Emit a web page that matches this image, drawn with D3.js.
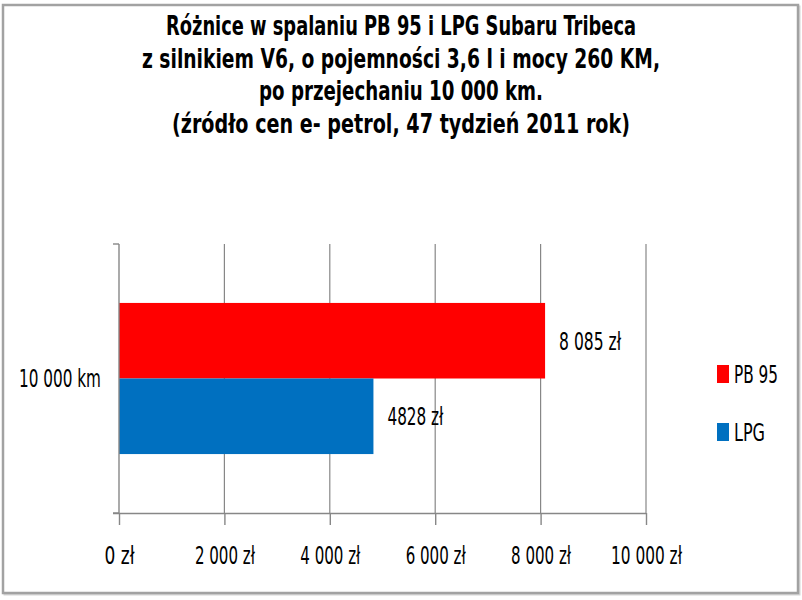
<!DOCTYPE html>
<html lang="pl">
<head>
<meta charset="utf-8">
<title>Różnice w spalaniu PB 95 i LPG Subaru Tribeca</title>
<style>
  body { margin: 0; background: #fff; }
  svg text { font-family: "Liberation Sans Narrow", "DejaVu Sans Condensed", "Liberation Sans", sans-serif; fill: #000; }
  .grid line { stroke: #878787; stroke-width: 1.2; }
  .axis path, .axis line { stroke: #878787; stroke-width: 1.4; }
</style>
</head>
<body>
<script src="https://d3js.org/d3.v7.min.js"></script>
<script>

// chart data
var titleLines = [
  "Różnice w spalaniu PB 95 i LPG Subaru Tribeca",
  "z silnikiem V6, o pojemności 3,6 l i mocy 260 KM,",
  "po przejechaniu 10 000 km.",
  "(źródło cen e- petrol, 47 tydzień 2011 rok)"
];
var categories = ["10 000 km"];
var seriesNames = ["PB 95", "LPG"];
var seriesColors = ["#ff0000", "#0070c0"];
var pb95Values = [8085];
var lpgValues = [4828];
var valueLabels = ["8 085 zł", "4828 zł"];
var xTicks = [0, 2000, 4000, 6000, 8000, 10000];
var xTickLabels = ["0 zł", "2 000 zł", "4 000 zł", "6 000 zł", "8 000 zł", "10 000 zł"];

var width = 802,
    height = 600;

var svg = d3.select("body").append("svg")
    .attr("width", width)
    .attr("height", height);

// outer frame with a soft shadow
svg.append("rect")
    .attr("x", 4.5).attr("y", 6.5)
    .attr("width", 795).attr("height", 588)
    .attr("fill", "none")
    .attr("stroke", "#d6d6d6")
    .attr("stroke-width", 2);
svg.append("rect")
    .attr("x", 3).attr("y", 5)
    .attr("width", 795).attr("height", 588)
    .attr("fill", "#fff")
    .attr("stroke", "#a2a2a2")
    .attr("stroke-width", 2.5);

// title (squeezed to the widths seen in the picture)
var titleWidths = [470, 518, 284, 458];
svg.append("g").selectAll("text")
    .data(titleLines)
    .enter().append("text")
    .attr("x", 401)
    .attr("y", function(d, i) { return 35 + i * 32.6; })
    .attr("text-anchor", "middle")
    .attr("font-size", 26)
    .attr("font-weight", "bold")
    .attr("textLength", function(d, i) { return titleWidths[i]; })
    .attr("lengthAdjust", "spacingAndGlyphs")
    .text(function(d) { return d; });

var plot = { left: 119, right: 646, top: 244, bottom: 513 };

var x = d3.scaleLinear()
    .domain([0, 10000])
    .range([plot.left, plot.right]);

var y = d3.scaleBand()
    .domain(categories)
    .range([plot.top, plot.bottom]);

var ySeries = d3.scaleBand()
    .domain(seriesNames)
    .range([0, y.bandwidth()])
    .paddingInner(0)
    .paddingOuter(0.78);

// vertical gridlines
svg.append("g")
    .attr("class", "grid")
    .selectAll("line")
    .data(xTicks.slice(1))
    .enter().append("line")
    .attr("x1", function(d) { return x(d); })
    .attr("x2", function(d) { return x(d); })
    .attr("y1", plot.top)
    .attr("y2", plot.bottom);

var rows = categories.map(function(c, i) {
  return [
    { cat: c, series: seriesNames[0], value: pb95Values[i], label: valueLabels[0], color: seriesColors[0] },
    { cat: c, series: seriesNames[1], value: lpgValues[i], label: valueLabels[1], color: seriesColors[1] }
  ];
}).flat();

svg.append("g").selectAll("rect")
    .data(rows)
    .enter().append("rect")
    .attr("x", x(0))
    .attr("y", function(d) { return y(d.cat) + ySeries(d.series); })
    .attr("width", function(d) { return x(d.value) - x(0); })
    .attr("height", ySeries.bandwidth())
    .attr("fill", function(d) { return d.color; });

var labelWidths = [62, 56];
svg.append("g").selectAll("text")
    .data(rows)
    .enter().append("text")
    .attr("x", function(d) { return x(d.value) + 14; })
    .attr("y", function(d) { return y(d.cat) + ySeries(d.series) + ySeries.bandwidth() / 2; })
    .attr("dy", "0.36em")
    .attr("font-size", 25)
    .attr("textLength", function(d, i) { return labelWidths[i]; })
    .attr("lengthAdjust", "spacingAndGlyphs")
    .text(function(d) { return d.label; });

// x axis
var tickLabelWidths = [30, 60, 60, 60, 60, 71];
var xAxis = svg.append("g")
    .attr("class", "axis")
    .attr("transform", "translate(0," + plot.bottom + ")")
    .call(d3.axisBottom(x)
        .tickValues(xTicks)
        .tickSizeInner(12)
        .tickSizeOuter(0)
        .tickPadding(22)
        .tickFormat(function(d, i) { return xTickLabels[i]; }));
xAxis.select(".domain").attr("d", "M" + (plot.left - 6) + ",0.5H" + plot.right);
xAxis.selectAll(".tick line").attr("y1", 0);
xAxis.selectAll(".tick text")
    .attr("font-size", 24)
    .attr("font-family", null)
    .attr("fill", "#000")
    .attr("textLength", function(d, i) { return tickLabelWidths[i]; })
    .attr("lengthAdjust", "spacingAndGlyphs");

// y axis: category separators at both ends of the band
var yAxis = svg.append("g").attr("class", "axis");
yAxis.append("line")
    .attr("x1", plot.left).attr("x2", plot.left)
    .attr("y1", plot.top).attr("y2", plot.bottom);
yAxis.selectAll("line.sep")
    .data([plot.top, plot.bottom])
    .enter().append("line")
    .attr("class", "sep")
    .attr("x1", plot.left - 6).attr("x2", plot.left)
    .attr("y1", function(d) { return d; })
    .attr("y2", function(d) { return d; });
yAxis.selectAll("text")
    .data(categories)
    .enter().append("text")
    .attr("x", plot.left - 18)
    .attr("y", function(d) { return y(d) + y.bandwidth() / 2; })
    .attr("dy", "0.36em")
    .attr("text-anchor", "end")
    .attr("font-size", 24)
    .attr("textLength", 82)
    .attr("lengthAdjust", "spacingAndGlyphs")
    .text(function(d) { return d; });

// legend
var legend = svg.append("g").selectAll("g")
    .data(seriesNames)
    .enter().append("g")
    .attr("transform", function(d, i) { return "translate(717," + (365 + i * 58) + ")"; });
legend.append("rect")
    .attr("width", 12)
    .attr("height", 18)
    .attr("fill", function(d, i) { return seriesColors[i]; });
legend.append("text")
    .attr("x", 17)
    .attr("y", 9)
    .attr("dy", "0.36em")
    .attr("font-size", 24)
    .attr("textLength", function(d, i) { return [44, 31][i]; })
    .attr("lengthAdjust", "spacingAndGlyphs")
    .text(function(d) { return d; });

</script>
</body>
</html>
